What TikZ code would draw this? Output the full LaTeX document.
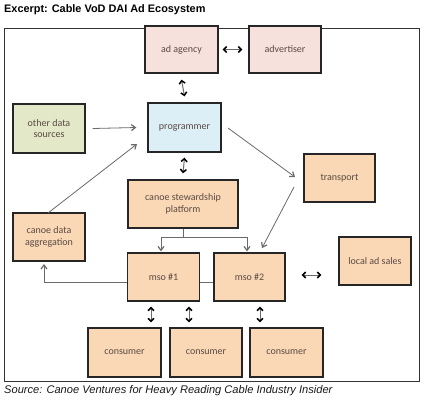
\documentclass[tikz,border=0pt]{standalone}
\usepackage{fontspec}
\setmainfont{Carlito}
\newfontfamily\arialfont{Liberation Sans}
\usetikzlibrary{arrows.meta,backgrounds}
\definecolor{peach}{HTML}{FAD8B6}
\definecolor{pinkish}{HTML}{F6E1DC}
\definecolor{greenish}{HTML}{E2E8C8}
\definecolor{bluish}{HTML}{DCEEF6}
\definecolor{labelc}{HTML}{5A4A42}
\definecolor{linec}{HTML}{6A6A6A}
\tikzset{
  box/.style={draw=black!85, line width=1.3pt, fill=peach, text=labelc, align=center,
    font=\fontsize{10}{11.5}\selectfont, inner sep=0pt},
  conn/.style={draw=linec, line width=0.8pt, -{Straight Barb[length=4pt,width=6pt,line width=1.2pt]}},
  plainline/.style={draw=linec, line width=0.8pt},
  dbl/.style={draw=linec, line width=1pt, {Straight Barb[length=3pt,width=6pt,line width=1.5pt,color=black]}-{Straight Barb[length=3pt,width=6pt,line width=1.5pt,color=black]}},
}
\begin{document}
\begin{tikzpicture}[x=1pt,y=-1pt]
\useasboundingbox (0,0) rectangle (425,400);
% title and frame
\node[anchor=west, font=\arialfont\bfseries\fontsize{10.9}{12}\selectfont, inner sep=0pt] (title) at (4,10) {Excerpt: Cable VoD DAI Ad Ecosystem};
\draw[black!80, line width=1pt] (4,28) rectangle (419,381);
\node[anchor=west, font=\arialfont\itshape\fontsize{11.1}{12}\selectfont, inner sep=0pt, text=black!90] (source) at (4,391) {Source: Canoe Ventures for Heavy Reading Cable Industry Insider};
% boxes
\node[box, fill=pinkish, minimum width=73pt, minimum height=47pt] (adag) at (181.5,49.5) {ad agency};
\node[box, fill=pinkish, minimum width=72pt, minimum height=47pt] (adv) at (285,49.5) {advertiser};
\node[box, fill=greenish, minimum width=72pt, minimum height=49pt] (other) at (49,128.5) {other data\\sources};
\node[box, fill=bluish, minimum width=73pt, minimum height=49pt] (prog) at (184.5,127.5) {programmer};
\node[box, minimum width=71pt, minimum height=48pt] (trans) at (339.5,178) {transport};
\node[box, minimum width=110pt, minimum height=48pt] (stew) at (183,204) {canoe stewardship\\platform};
\node[box, minimum width=72pt, minimum height=48pt] (agg) at (49,237) {canoe data\\aggregation};
\node[box, minimum width=72pt, minimum height=48pt] (local) at (375,261) {local ad sales};
\node[box, minimum width=72pt, minimum height=48pt] (mso1) at (163.5,277) {mso \#1};
\node[box, minimum width=71pt, minimum height=48pt] (mso2) at (249.5,277) {mso \#2};
\node[box, minimum width=73pt, minimum height=49pt] (c1) at (124.5,352.5) {consumer};
\node[box, minimum width=72pt, minimum height=49pt] (c2) at (206,352.5) {consumer};
\node[box, minimum width=73pt, minimum height=49pt] (c3) at (286.5,352.5) {consumer};
% coordinates
\coordinate (aggin) at (44,264);
\coordinate (corner) at (44,282);
\coordinate (split) at (183,237);
\coordinate (splitL) at (161,237);
\coordinate (splitR) at (247,237);
% background: white page and line from mso #2 behind mso #1
\begin{scope}[on background layer]
\fill[white] (0,0) rectangle (425,400);
\draw[conn] ([yshift=-5pt]mso2.west) -- (corner) -- (aggin);
\end{scope}
% connectors
\draw[dbl] ([xshift=4pt]adag.east) -- ([xshift=-6pt]adv.west);
\draw[dbl] ([yshift=-6pt]adag.south) -- ([yshift=6pt]prog.north);
\draw[dbl] ([yshift=-5pt]prog.south) -- ([yshift=6pt]stew.north);
\draw[conn] ([xshift=7pt]other.east) -- ([xshift=-11pt]prog.west);
\draw[conn] (48,213) -- (137,144);
\draw[conn] (228,128) -- (295,177);
\draw[conn] (294,187) -- (262,248);
\draw[plainline] (stew.south) -- (split);
\draw[conn] (split) -- (splitL) -- ([xshift=-2.5pt, yshift=1pt]mso1.north);
\draw[conn] (split) -- (splitR) -- ([xshift=-2.5pt, yshift=1pt]mso2.north);
\draw[dbl] ([xshift=16pt,yshift=2pt]mso2.east) -- ([xshift=-17pt,yshift=-14pt]local.west);
\draw[dbl] ([xshift=-12.5pt,yshift=-5pt]mso1.south) -- ([xshift=-12.5pt,yshift=5pt]mso1.south |- c1.north);
\draw[dbl] ([xshift=25.5pt,yshift=-5pt]mso1.south) -- ([xshift=25.5pt,yshift=5pt]mso1.south |- c1.north);
\draw[dbl] ([xshift=10.5pt,yshift=-5pt]mso2.south) -- ([xshift=10.5pt,yshift=5pt]mso2.south |- c3.north);
\end{tikzpicture}
\end{document}
